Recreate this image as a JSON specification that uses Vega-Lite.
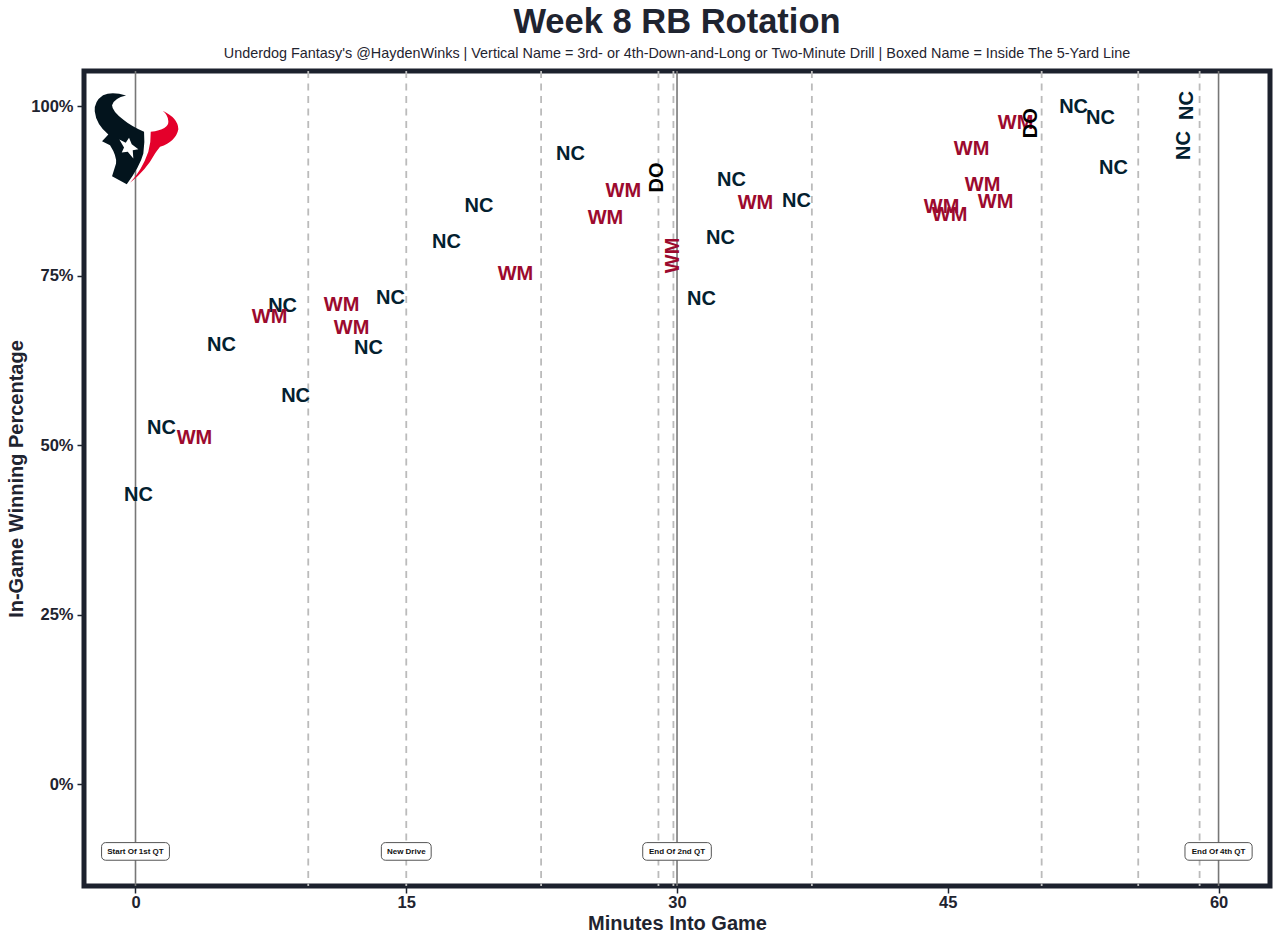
{
"$schema":"https://vega.github.io/schema/vega-lite/v6.json",
"width":1186,"height":815,
"autosize":{"type":"none"},
"padding":{"left":84,"top":71,"right":10,"bottom":56},
"background":"white",
"title":{"text":"Week 8 RB Rotation","subtitle":"Underdog Fantasy's @HaydenWinks | Vertical Name = 3rd- or 4th-Down-and-Long or Two-Minute Drill | Boxed Name = Inside The 5-Yard Line","anchor":"middle","font":"Liberation Sans","fontSize":34.5,"fontWeight":"bold","color":"#1F2430","subtitleFont":"Liberation Sans","subtitleFontSize":14.4,"subtitleColor":"#1F2430","subtitlePadding":6,"offset":9},
"config":{"view":{"stroke":"#1C212D","strokeWidth":5},"font":"Liberation Sans"},
"datasets":{
"plays":[
{"minute":0.14,"wp":42.8,"player":"NC","vertical":false},{"minute":1.41,"wp":52.6,"player":"NC","vertical":false},{"minute":4.74,"wp":64.8,"player":"NC","vertical":false},{"minute":8.12,"wp":70.6,"player":"NC","vertical":false},{"minute":8.84,"wp":57.3,"player":"NC","vertical":false},{"minute":14.1,"wp":71.8,"player":"NC","vertical":false},{"minute":12.88,"wp":64.4,"player":"NC","vertical":false},{"minute":17.2,"wp":80.1,"player":"NC","vertical":false},{"minute":19.0,"wp":85.4,"player":"NC","vertical":false},{"minute":24.07,"wp":93.1,"player":"NC","vertical":false},{"minute":31.33,"wp":71.7,"player":"NC","vertical":false},{"minute":32.38,"wp":80.7,"player":"NC","vertical":false},{"minute":32.99,"wp":89.2,"player":"NC","vertical":false},{"minute":36.59,"wp":86.1,"player":"NC","vertical":false},{"minute":51.94,"wp":99.9,"player":"NC","vertical":false},{"minute":53.43,"wp":98.4,"player":"NC","vertical":false},{"minute":54.15,"wp":91.0,"player":"NC","vertical":false},
{"minute":58.09,"wp":94.2,"player":"NC","vertical":true},{"minute":58.25,"wp":100.1,"player":"NC","vertical":true},
{"minute":3.24,"wp":51.1,"player":"WM","vertical":false},{"minute":7.4,"wp":69.0,"player":"WM","vertical":false},{"minute":11.39,"wp":70.8,"player":"WM","vertical":false},{"minute":11.94,"wp":67.4,"player":"WM","vertical":false},{"minute":21.02,"wp":75.3,"player":"WM","vertical":false},{"minute":26.01,"wp":83.6,"player":"WM","vertical":false},{"minute":27.0,"wp":87.6,"player":"WM","vertical":false},{"minute":34.32,"wp":85.8,"player":"WM","vertical":false},{"minute":44.63,"wp":85.2,"player":"WM","vertical":false},{"minute":45.07,"wp":84.1,"player":"WM","vertical":false},{"minute":46.29,"wp":93.7,"player":"WM","vertical":false},{"minute":46.9,"wp":88.5,"player":"WM","vertical":false},{"minute":47.62,"wp":86.0,"player":"WM","vertical":false},{"minute":48.73,"wp":97.6,"player":"WM","vertical":false},
{"minute":29.77,"wp":78.0,"player":"WM","vertical":true},
{"minute":28.89,"wp":89.5,"player":"DO","vertical":true},{"minute":49.61,"wp":97.5,"player":"DO","vertical":true}
],
"drives":[{"minute":9.57},{"minute":15},{"minute":22.47},{"minute":28.97},{"minute":29.8},{"minute":37.47},{"minute":50.2},{"minute":55.55},{"minute":58.95}],
"quarters":[{"minute":0},{"minute":30},{"minute":60}],
"events":[
{"minute":0,"xmin":-1.88,"xmax":1.88,"ymin":-11.2,"ymax":-8.6,"y":-9.95,"label":"Start Of 1st QT"},
{"minute":15,"xmin":13.62,"xmax":16.38,"ymin":-11.2,"ymax":-8.6,"y":-9.95,"label":"New Drive"},
{"minute":30,"xmin":28.1,"xmax":31.9,"ymin":-11.2,"ymax":-8.6,"y":-9.95,"label":"End Of 2nd QT"},
{"minute":60,"xmin":58.14,"xmax":61.86,"ymin":-11.2,"ymax":-8.6,"y":-9.95,"label":"End Of 4th QT"}
],
"logo":[{"minute":0.03,"wp":95.3}]
},
"encoding":{
"x":{"field":"minute","type":"quantitative","scale":{"domain":[-2.853,62.85],"nice":false,"zero":false},"axis":{"values":[0,15,30,45,60],"title":"Minutes Into Game","grid":false,"domain":false,"tickColor":"#1F2430","tickSize":7,"tickWidth":1.5,"labelFont":"Liberation Sans","labelFontSize":16.5,"labelFontWeight":"bold","labelColor":"#1F2430","labelPadding":1,"titleFont":"Liberation Sans","titleFontSize":20,"titleFontWeight":"bold","titleColor":"#1F2430","titlePadding":3}},
"y":{"field":"wp","type":"quantitative","scale":{"domain":[-15,105.2],"nice":false,"zero":false},"axis":{"values":[0,25,50,75,100],"labelExpr":"datum.value + '%'","title":"In-Game Winning Percentage","grid":false,"domain":false,"tickColor":"#1F2430","tickSize":7,"tickWidth":1.5,"labelFont":"Liberation Sans","labelFontSize":16.5,"labelFontWeight":"bold","labelColor":"#1F2430","labelPadding":4,"titleFont":"Liberation Sans","titleFontSize":20,"titleFontWeight":"bold","titleColor":"#1F2430","titlePadding":4}}
},
"layer":[
{"data":{"name":"drives"},"mark":{"type":"rule","color":"#BBBBBB","strokeWidth":1.8,"strokeDash":[7,5.5]},"encoding":{"y":{"value":0},"y2":{"value":815}}},
{"data":{"name":"quarters"},"mark":{"type":"rule","color":"#777777","strokeWidth":1.6},"encoding":{"y":{"value":0},"y2":{"value":815}}},
{"data":{"name":"events"},"mark":{"type":"rect","fill":"white","stroke":"#555555","strokeWidth":1,"cornerRadius":4},"encoding":{"x":{"field":"xmin","type":"quantitative"},"x2":{"field":"xmax"},"y":{"field":"ymin","type":"quantitative"},"y2":{"field":"ymax"}}},
{"data":{"name":"events"},"mark":{"type":"text","font":"Liberation Sans","fontWeight":"bold","fontSize":8,"color":"#111111"},"encoding":{"y":{"field":"y","type":"quantitative"},"text":{"field":"label"}}},
{"data":{"name":"plays"},"transform":[{"filter":"!datum.vertical"}],"mark":{"type":"text","font":"Liberation Sans","fontWeight":"bold","fontSize":20,"baseline":"middle","dx":0.5,"dy":0.5},"encoding":{"text":{"field":"player"},"color":{"field":"player","type":"nominal","scale":{"domain":["NC","WM","DO"],"range":["#03202F","#9C0A2E","#000000"]},"legend":null}}},
{"data":{"name":"plays"},"transform":[{"filter":"datum.vertical"}],"mark":{"type":"text","font":"Liberation Sans","fontWeight":"bold","fontSize":20,"baseline":"middle","angle":270},"encoding":{"text":{"field":"player"},"color":{"field":"player","type":"nominal","scale":{"domain":["NC","WM","DO"],"range":["#03202F","#9C0A2E","#000000"]},"legend":null}}},
{"data":{"name":"logo"},"mark":{"type":"point","filled":true,"opacity":1,"size":4,"color":"#03141D","strokeWidth":0,"shape":"M-10,-42.7Q-24,-47 -33,-43Q-42,-37 -41.3,-27Q-40,-14 -27.7,-3.7L-34,3L-26,7Q-19,18 -20,25.3L-24,38L-9.3,46Q4,28 7.3,15.3Q9,4 8,-6.3Q-6,-13 -12,-18Q-24,-27 -24,-33Q-22,-40 -10,-42.7Z"}},
{"data":{"name":"logo"},"mark":{"type":"point","filled":true,"opacity":1,"size":4,"color":"#E4002B","strokeWidth":0,"shape":"M26.7,-27.3Q42,-20 42.3,-9Q40,3 24,8.7Q20,14 19,15.3Q10,32 -6,44.7Q6,32 12.3,13.7Q15,4 14.7,-6.3Q33,-9 32.3,-17Q32,-23 26.7,-27.3Z"}},
{"data":{"name":"logo"},"mark":{"type":"point","filled":true,"opacity":1,"size":4,"color":"#FFFFFF","strokeWidth":0,"shape":"M-7,-0.3L-4.3,6L2.3,11L-3.3,12L-2.7,20.3L-8.3,13.7L-14.3,14.3L-12,9.3L-16.7,1.3L-10.3,4.7Z"}}
]
}
